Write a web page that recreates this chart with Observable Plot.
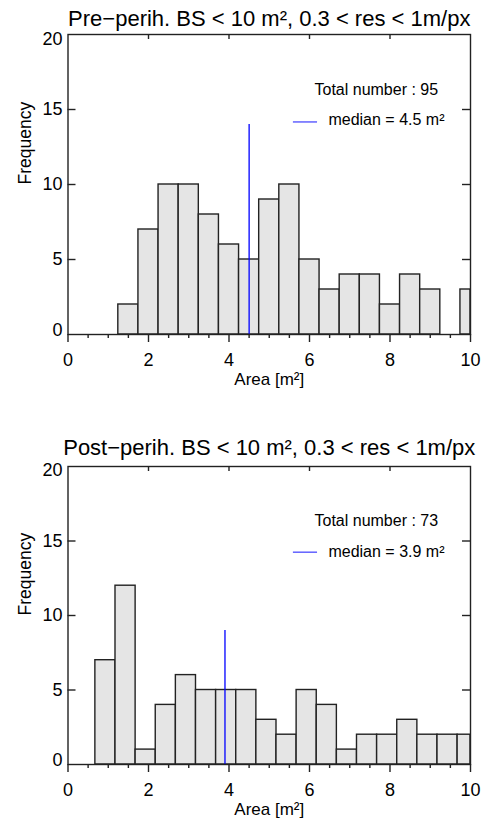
<!DOCTYPE html>
<html>
<head>
<meta charset="utf-8">
<script src="https://cdn.jsdelivr.net/npm/d3@7"></script>
<script src="https://cdn.jsdelivr.net/npm/@observablehq/plot@0.6"></script>
<style>
  body { margin: 0; background: #fff; }
  svg { display: block; }
</style>
</head>
<body>
<div id="chart"></div>
<script>
// ---- data ----
const xMajorTicks = [0, 2, 4, 6, 8, 10];
const xMinorTicks = [0.5, 1, 1.5, 2.5, 3, 3.5, 4.5, 5, 5.5, 6.5, 7, 7.5, 8.5, 9, 9.5];
const xTopTicks = [2, 4, 6, 8];
const yTicks = [0, 5, 10, 15, 20];
const yInnerTicks = [5, 10, 15];
const binWidth = 0.5;

const preTitle = "Pre\u2212perih. BS < 10 m\u00b2, 0.3 < res < 1m/px";
const preBinStarts = [1.25, 1.75, 2.25, 2.75, 3.25, 3.75, 4.25, 4.75, 5.25, 5.75, 6.25, 6.75, 7.25, 7.75, 8.25, 8.75, 9.25, 9.75];
const preCounts = [2, 7, 10, 10, 8, 6, 5, 9, 10, 5, 3, 4, 4, 2, 4, 3, 0, 3];
const preTotal = 95;
const preMedian = 4.5;
const preMedianTop = 14;

const postTitle = "Post\u2212perih. BS < 10 m\u00b2, 0.3 < res < 1m/px";
const postBinStarts = [0.68, 1.18, 1.68, 2.18, 2.68, 3.18, 3.68, 4.18, 4.68, 5.18, 5.68, 6.18, 6.68, 7.18, 7.68, 8.18, 8.68, 9.18, 9.68];
const postCounts = [7, 12, 1, 4, 6, 5, 5, 5, 3, 2, 5, 4, 1, 2, 2, 3, 2, 2, 2];
const postTotal = 73;
const postMedian = 3.9;
const postMedianTop = 9;

const xLabel = "Area [m\u00b2]";
const yLabel = "Frequency";

// ---- drawing ----
const FONT = "'Liberation Sans', Arial, Helvetica, sans-serif";
const INK = "#222";
const W = 490, ML = 67.5, MR = 20;

function panel({title, starts, counts, total, median, medianTop, height, marginTop, marginBottom, titleDy, topLabelDy, legendLineY}) {
  const bins = starts
    .map((s, i) => ({x1: s, x2: Math.min(s + binWidth, 10), count: counts[i]}))
    .filter(d => d.count > 0);
  const plotH = height - marginTop - marginBottom;
  const plotW = W - ML - MR;
  return Plot.plot({
    width: W, height, marginLeft: ML, marginRight: MR, marginTop, marginBottom,
    style: {fontFamily: FONT, background: "#fff", color: "#000"},
    x: {domain: [0, 10], label: null, axis: null},
    y: {domain: [0, 20], label: null, axis: null},
    marks: [
      Plot.rectY(bins, {x1: "x1", x2: "x2", y: "count", fill: "#e5e5e5", stroke: INK, strokeWidth: 1.4}),
      Plot.ruleX([median], {x: d => d, y1: 0, y2: medianTop, stroke: "#0000ff", strokeWidth: 1.3}),
      Plot.frame({stroke: INK, strokeWidth: 1.4}),
      // ticks
      Plot.tickX(xMajorTicks, {x: d => d, insetTop: plotH, insetBottom: -8, stroke: INK, strokeWidth: 1.4}),
      Plot.tickX(xMinorTicks, {x: d => d, insetTop: plotH, insetBottom: -4, stroke: INK, strokeWidth: 1.4}),
      Plot.tickX(xTopTicks, {x: d => d, insetBottom: plotH - 5, stroke: INK, strokeWidth: 1.4}),
      Plot.tickY(yInnerTicks, {y: d => d, insetRight: plotW - 8, stroke: INK, strokeWidth: 1.4}),
      Plot.tickY(yInnerTicks, {y: d => d, insetLeft: plotW - 8, stroke: INK, strokeWidth: 1.4}),
      // tick labels
      Plot.text(xMajorTicks, {x: d => d, text: d => String(d), frameAnchor: "bottom", dy: 31, lineAnchor: "bottom", fontSize: 18, fill: "#000"}),
      Plot.text(yTicks.filter(v => v > 0 && v < 20), {y: d => d, text: d => String(d), frameAnchor: "left", textAnchor: "end", dx: -5.5, fontSize: 18, fill: "#000"}),
      Plot.text(yTicks.filter(v => v === 20), {y: d => d, text: d => String(d), frameAnchor: "left", textAnchor: "end", dx: -5.5, dy: topLabelDy, fontSize: 18, fill: "#000"}),
      Plot.text(yTicks.filter(v => v === 0), {y: d => d, text: d => String(d), frameAnchor: "left", textAnchor: "end", dx: -5.5, dy: -4, fontSize: 18, fill: "#000"}),
      // axis labels and title
      Plot.text([title], {text: d => d, frameAnchor: "top", dy: titleDy, lineAnchor: "bottom", fontSize: 22, fill: "#000"}),
      Plot.text([yLabel], {text: d => d, frameAnchor: "left", dx: -43, rotate: -90, fontSize: 17.5, fill: "#000"}),
      Plot.text([xLabel], {text: d => d, frameAnchor: "bottom", dy: 50, lineAnchor: "bottom", fontSize: 17, fill: "#000"}),
      // legend
      Plot.text([{x: 7.66, y: 16, t: `Total number : ${total}`}], {x: "x", y: "y", text: "t", lineAnchor: "bottom", fontSize: 16, fill: "#000"}),
      Plot.ruleY([{y: legendLineY, x1: 5.6, x2: 6.2}], {y: "y", x1: "x1", x2: "x2", stroke: "#4a4aff", strokeWidth: 1.3}),
      Plot.text([{x: 6.47, y: 13.95, t: `median = ${median} m\u00b2`}], {x: "x", y: "y", text: "t", textAnchor: "start", lineAnchor: "bottom", fontSize: 16, fill: "#000"})
    ]
  });
}

const chart = document.getElementById("chart");
chart.appendChild(panel({
  title: preTitle, starts: preBinStarts, counts: preCounts, total: preTotal,
  median: preMedian, medianTop: preMedianTop,
  height: 410, marginTop: 34, marginBottom: 76, titleDy: -9, topLabelDy: 5, legendLineY: 14.17
}));
chart.appendChild(panel({
  title: postTitle, starts: postBinStarts, counts: postCounts, total: postTotal,
  median: postMedian, medianTop: postMedianTop,
  height: 411, marginTop: 56, marginBottom: 57, titleDy: -12, topLabelDy: 3.5, legendLineY: 14.25
}));
</script>
</body>
</html>
